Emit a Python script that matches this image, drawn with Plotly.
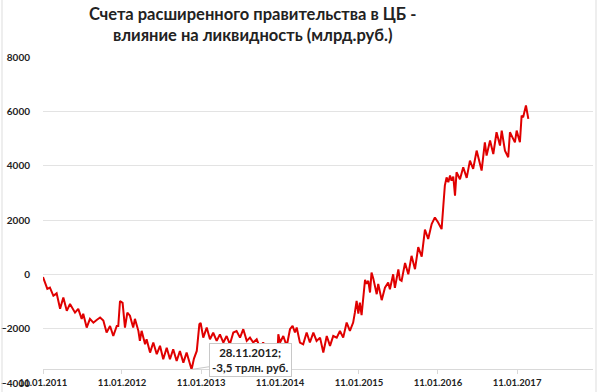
import plotly.graph_objects as go

dates = [
    "2011-01-11", "2011-01-20", "2011-01-31", "2011-02-12", "2011-02-28", "2011-03-15", "2011-03-31",
    "2011-04-15", "2011-05-01", "2011-05-16", "2011-06-08", "2011-06-23", "2011-07-09", "2011-07-16",
    "2011-08-01", "2011-08-16", "2011-09-01", "2011-09-16", "2011-10-02", "2011-10-17", "2011-11-01",
    "2011-11-17", "2011-12-02", "2011-12-18", "2011-12-25",
    "2012-01-02", "2012-01-14", "2012-01-25", "2012-02-05", "2012-02-17", "2012-03-03", "2012-03-11",
    "2012-03-27", "2012-04-03", "2012-04-11", "2012-04-27", "2012-05-04", "2012-05-20", "2012-06-04",
    "2012-06-20", "2012-07-05", "2012-07-20", "2012-08-05", "2012-08-20", "2012-09-04", "2012-09-20",
    "2012-10-05", "2012-10-21", "2012-11-05", "2012-11-28", "2012-12-09", "2012-12-22",
    "2013-01-03", "2013-01-09", "2013-01-21", "2013-02-06", "2013-02-21", "2013-03-08", "2013-03-24",
    "2013-04-08", "2013-04-24", "2013-05-09", "2013-05-24", "2013-06-09", "2013-06-24", "2013-07-10",
    "2013-07-25", "2013-08-10", "2013-08-25", "2013-09-09", "2013-09-25", "2013-10-10", "2013-10-25",
    "2013-11-10", "2013-12-05", "2013-12-31",
    "2014-01-03", "2014-01-11", "2014-01-26", "2014-02-11", "2014-02-26", "2014-03-10", "2014-03-21",
    "2014-03-29", "2014-04-13", "2014-04-28", "2014-05-14", "2014-05-29", "2014-06-14", "2014-06-29",
    "2014-07-15", "2014-07-30", "2014-08-15", "2014-08-30", "2014-09-14", "2014-09-30", "2014-10-15",
    "2014-10-30", "2014-11-15", "2014-11-30", "2014-12-15", "2014-12-23", "2014-12-31",
    "2015-01-08", "2015-01-15", "2015-01-23", "2015-01-31", "2015-02-08", "2015-02-15", "2015-02-23",
    "2015-03-03", "2015-03-10", "2015-03-18", "2015-04-03", "2015-04-10", "2015-04-26", "2015-05-11",
    "2015-05-26", "2015-06-03", "2015-06-18", "2015-06-26", "2015-07-12", "2015-07-19", "2015-07-27",
    "2015-08-12", "2015-08-27", "2015-09-11", "2015-09-27", "2015-10-12", "2015-10-28", "2015-11-12",
    "2015-11-27", "2015-12-13", "2015-12-28",
    "2016-01-12", "2016-01-28", "2016-02-05", "2016-02-12", "2016-02-20", "2016-02-28", "2016-03-07",
    "2016-03-14", "2016-03-22", "2016-03-30", "2016-04-06", "2016-04-22", "2016-05-07", "2016-05-23",
    "2016-06-07", "2016-06-22", "2016-07-08", "2016-07-23", "2016-07-31", "2016-08-15", "2016-08-23",
    "2016-09-08", "2016-09-23", "2016-10-08", "2016-10-24", "2016-11-01", "2016-11-16", "2016-12-01",
    "2016-12-09", "2016-12-24",
    "2017-01-01", "2017-01-09", "2017-01-24", "2017-02-01", "2017-02-08", "2017-02-21", "2017-03-04",
]

values = [
    -100, -300, -535, -490, -790, -700, -1270, -855, -1345, -1090, -1410, -1270, -1640, -1450,
    -1960, -1640, -1780, -1680, -1590, -1700, -2145, -1900, -2270, -1900, -1900,
    -980, -1050, -1960, -1410, -1520, -1960, -1640, -2080, -2450, -2080, -2575, -2390, -2880, -2510,
    -2940, -2630, -3125, -2700, -3125, -2760, -3190, -2820, -3250, -2880, -3500, -3100, -2820,
    -1835, -1790, -2330, -1960, -2390, -2150, -2450, -2210, -2510, -2270, -2575, -2140, -2085, -2330,
    -2020, -2450, -2330, -2510, -2390, -2700, -2510, -2760, None, -2750,
    -2205, -2510, -2270, -2640, -2020, -1900, -2140, -1960, -2515, -2575, -2140, -2510, -2145, -2450,
    -2330, -2880, -2270, -2635, -2270, -2330, -2085, -2330, -1775, -2080, -1775, -1410, -980,
    -1450, -1040, -1500, -730, -200, -350, -240, -670, 65, -150, -730, -350, -950, -490,
    -300, -550, 0, -500, 180, -200, -240, 420, 0, 680, 190, 1000, 650, 1650,
    1300, 1850, 2095,
    1910, 1665, 2525, 3265, 3570, 3390, 3640, 3450, 3600, 2895, 3755, 3500, 3940, 3550,
    4185, 3880, 4555, 4000, 3820, 4860, 4370, 4925, 4430, 5230, 4740, 5290, 4555, 4310,
    5230, 4985,
    4860, 5290, 4860, 5845, 5780, 6215, 5720,
]

tick_dates = ["2011-01-11", "2012-01-11", "2013-01-11", "2014-01-11", "2015-01-11", "2016-01-11", "2017-01-11"]
tick_labels = ["11.01.2011", "11.01.2012", "11.01.2013", "11.01.2014", "11.01.2015", "11.01.2016", "11.01.2017"]
y_ticks = [-4000, -2000, 0, 2000, 4000, 6000, 8000]

min_date = "2012-11-28"
min_value = -3500
note_text = "28.11.2012;<br>-3,5 трлн. руб."
title_text = "Счета расширенного правительства в ЦБ -<br>влияние на ликвидность (млрд.руб.)"

fig = go.Figure()
fig.add_trace(go.Scatter(
    x=dates, y=values, mode="lines",
    line=dict(color="#e00000", width=2),
    connectgaps=False, showlegend=False, hoverinfo="skip",
))

plot_h = 392 - 57 - 9

fig.update_layout(
    width=600, height=392,
    margin=dict(l=43, r=7, t=57, b=9, autoexpand=False),
    paper_bgcolor="white", plot_bgcolor="white",
    xaxis=dict(
        type="date", range=["2011-01-11", "2017-12-28"],
        tickvals=tick_dates, ticktext=tick_labels,
        showgrid=False, zeroline=False, automargin=False,
        showline=True, linecolor="#d9d9d9", linewidth=1,
        ticks="outside", ticklen=4, tickcolor="#d9d9d9",
        anchor="free", position=500 / 12000,
        tickfont=dict(family="Lato", size=9.5, color="#222222", weight="bold"),
    ),
    yaxis=dict(
        range=[-4000, 8000], tickvals=y_ticks, automargin=False,
        showgrid=True, gridcolor="#e3e3e3", gridwidth=1,
        zeroline=False, showline=False,
        ticks="outside", ticklen=10, tickcolor="rgba(0,0,0,0)",
        tickfont=dict(family="Lato", size=10, color="#222222", weight="bold"),
    ),
    annotations=[
        dict(
            x=(252 - 43) / 550, y=1 + 55 / plot_h, xref="paper", yref="paper",
            xanchor="center", yanchor="top", showarrow=False,
            text=title_text, align="center",
            font=dict(family="Lato", size=16.5, color="#222222", weight="bold"),
        ),
        dict(
            x=min_date, y=min_value, xref="x", yref="y",
            text=note_text, showarrow=True, arrowhead=0, arrowwidth=1,
            arrowcolor="#c8c8c8", ax=59, ay=-9,
            bgcolor="white", bordercolor="#c8c8c8", borderwidth=1, borderpad=2,
            font=dict(family="Lato", size=11.5, color="#222222", weight="bold"),
        ),
    ],
    shapes=[
        dict(type="line", xref="paper", yref="paper", x0=-41 / 550, x1=-41 / 550, y0=-0.03, y1=1.18,
             line=dict(color="#dddddd", width=1)),
        dict(type="line", xref="paper", yref="paper", x0=553 / 550, x1=553 / 550, y0=-0.03, y1=1.18,
             line=dict(color="#dddddd", width=1)),
    ],
)

fig.write_html("out.html", config={"displayModeBar": False},
               post_script="document.body.style.margin='0';")
